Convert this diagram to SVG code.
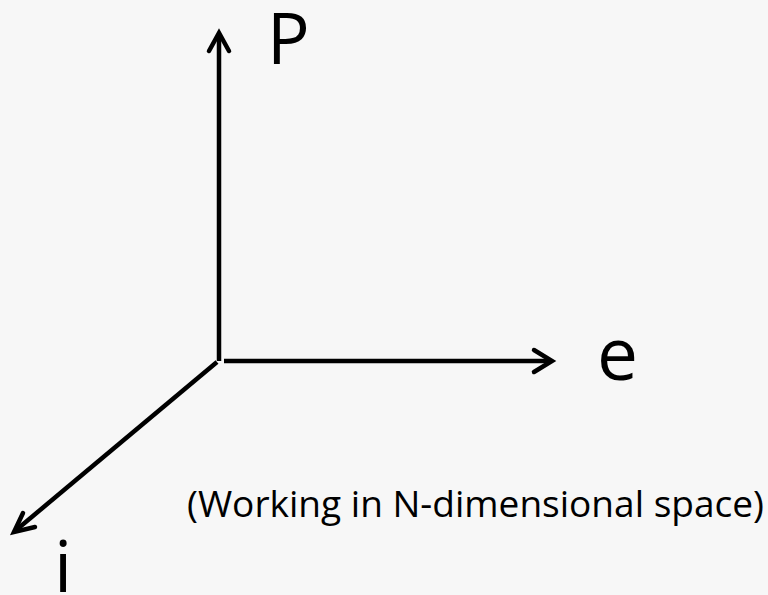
<svg xmlns="http://www.w3.org/2000/svg" width="768" height="595" viewBox="0 0 768 595">
<style>
.ax{stroke:#000;stroke-width:4.5;fill:none;stroke-linecap:butt}
.hd{stroke:#000;stroke-width:4.5;fill:none;stroke-linecap:round;stroke-linejoin:miter}
.lb{font-family:"Open Sans","Liberation Sans",sans-serif;fill:#000}
</style>
<rect width="768" height="595" fill="#f7f7f7"/>
<g id="connectors">
<line class="ax" x1="219" y1="361" x2="219" y2="34"/>
<polyline class="hd" points="209,51 219,33 229,51"/>
<line class="ax" x1="224" y1="361" x2="551" y2="361"/>
<polyline class="hd" points="534,350 552,361 534,372"/>
<line class="ax" x1="217" y1="362" x2="15" y2="531"/>
<polyline class="hd" points="23,513 14,532 35,527"/>
</g>
<g id="label-P"><text class="lb" x="267" y="64" font-size="71">P</text></g>
<g id="label-e"><text class="lb" x="597" y="380" font-size="73">e</text></g>
<g id="label-i"><text class="lb" x="54" y="592" font-size="72">i</text></g>
<g id="note"><text class="lb" x="187" y="517" font-size="37" textLength="577" lengthAdjust="spacingAndGlyphs">(Working in N-dimensional space)</text></g>
</svg>
